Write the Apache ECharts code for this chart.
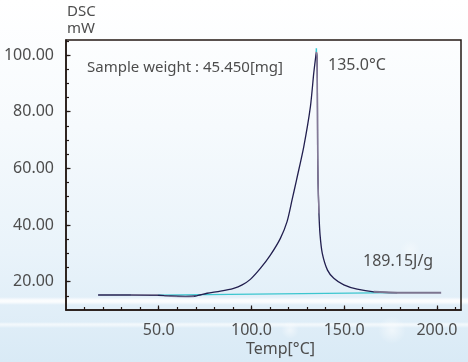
<!DOCTYPE html>
<html>
<head>
<meta charset="utf-8">
<script src="https://cdn.jsdelivr.net/npm/echarts@6/dist/echarts.min.js"></script>
<style>
html,body{margin:0;padding:0;width:468px;height:362px;overflow:hidden;}
body{background:linear-gradient(180deg,#ffffff 0%,#f6fafd 35%,#e9f3fa 70%,#d9eaf6 100%);position:relative;}
#bg{position:absolute;left:0;top:0;width:468px;height:362px;
background:
radial-gradient(circle at 392px 330px, rgba(255,255,255,0.55) 0, rgba(255,255,255,0) 14px),
radial-gradient(circle at 290px 330px, rgba(255,255,255,0.5) 0, rgba(255,255,255,0) 9px),
radial-gradient(circle at 410px 250px, rgba(255,255,255,0.35) 0, rgba(255,255,255,0) 10px),
linear-gradient(180deg, rgba(255,255,255,0) 297px, rgba(255,255,255,0.85) 300px, rgba(255,255,255,0.85) 302px, rgba(255,255,255,0) 305px),
linear-gradient(180deg, rgba(255,255,255,0) 322px, rgba(255,255,255,0.6) 324px, rgba(255,255,255,0.6) 325px, rgba(255,255,255,0) 328px);}
#chart{position:absolute;left:0;top:0;width:468px;height:362px;}
</style>
</head>
<body>
<div id="bg"></div>
<div id="chart"></div>
<script>
// ---- data ----
var mainTemp = [17.3, 34.7, 49.8, 56.3, 64.4, 69.8, 76.1, 83.3, 90.4, 95.0, 99.4, 104.8, 110.2, 115.6, 119.2, 121.9, 124.3, 128.2, 131.8, 133.6, 134.6, 135.0, 135.4, 135.6, 135.7, 135.9, 136.4, 137.0, 138.2, 141.0, 144.4, 149.8, 157.0, 166.0, 178.6];
var mainDSC  = [15.3, 15.3, 15.2, 14.94, 14.84, 14.94, 15.91, 16.63, 17.65, 18.87, 20.81, 24.68, 29.37, 35.28, 41.19, 48.84, 55.87, 67.6, 81.77, 93.59, 99.1, 101.2, 98.7, 81.4, 66.1, 55.9, 44.1, 36.5, 29.98, 24.07, 21.2, 18.87, 17.34, 16.42, 16.12];
var tailTemp = [166.0, 178.6, 191.2, 202.3];
var tailDSC  = [16.42, 16.12, 16.12, 16.12];
var descTemp = [135.0, 135.4, 135.6, 135.7, 135.9, 136.4];
var descDSC  = [101.2, 98.7, 81.4, 66.1, 55.9, 44.1];
var dipTemp  = [53.0, 60.0, 64.4, 69.0];
var dipDSC   = [14.89, 14.69, 14.64, 14.74];
var leftTemp = [35.0, 49.5];
var leftDSC  = [15.35, 15.35];
var baseTemp = [49.8, 178.6];
var baseDSC  = [15.25, 16.12];
var peakTemp = [135.0, 135.0];
var peakDSC  = [101.1, 102.4];
var xMajorTicks = [50, 100, 150, 200];
var yMajorTicks = [20, 40, 60, 80, 100];

function pairs(a, b) { return a.map(function (v, i) { return [v, b[i]]; }); }

var txt = '#4d4d4d';
var axisCol = '#231815';
var font = '"Noto Sans", "Open Sans", sans-serif';

var chart = echarts.init(document.getElementById('chart'), null, {renderer: 'canvas'});
chart.setOption({
  animation: false,
  backgroundColor: 'transparent',
  grid: {left: 66, top: 40, right: 7, bottom: 52, show: true, borderColor: axisCol, borderWidth: 1.5, backgroundColor: 'transparent'},
  xAxis: [{
    type: 'value', min: 0, max: 213, interval: 10,
    axisLine: {show: true, onZero: false, lineStyle: {color: axisCol, width: 1.5}},
    axisTick: {show: true, inside: true, length: 3, lineStyle: {color: axisCol, width: 1.2}},
    splitLine: {show: false},
    axisLabel: {
      margin: 12, color: txt, fontSize: 16, fontFamily: font,
      showMinLabel: false, showMaxLabel: false,
      formatter: function (v) { return xMajorTicks.indexOf(v) >= 0 ? v.toFixed(1) : ''; }
    }
  }, {
    type: 'value', min: 0, max: 213, position: 'bottom', offset: 0,
    axisLine: {show: false},
    axisTick: {show: true, inside: true, length: 4.5, customValues: xMajorTicks, lineStyle: {color: axisCol, width: 1.2}},
    axisLabel: {show: false}, splitLine: {show: false}
  }],
  yAxis: [{
    type: 'value', min: 10, max: 105.3, interval: 5,
    axisLine: {show: true, onZero: false, lineStyle: {color: axisCol, width: 1.5}},
    axisTick: {show: true, inside: true, length: 3, lineStyle: {color: axisCol, width: 1.2}},
    splitLine: {show: false},
    axisLabel: {
      margin: 12, color: txt, fontSize: 16, fontFamily: font,
      showMinLabel: false, showMaxLabel: false,
      formatter: function (v) { return yMajorTicks.indexOf(v) >= 0 ? v.toFixed(2) : ''; }
    }
  }, {
    type: 'value', min: 10, max: 105.3, position: 'left', offset: 0,
    axisLine: {show: false},
    axisTick: {show: true, inside: true, length: 4.5, customValues: yMajorTicks, lineStyle: {color: axisCol, width: 1.2}},
    axisLabel: {show: false}, splitLine: {show: false}
  }],
  series: [
    {type: 'line', data: pairs(baseTemp, baseDSC), showSymbol: false, lineStyle: {color: '#3cc6cf', width: 1.3}},
    {type: 'line', data: pairs(mainTemp, mainDSC), showSymbol: false, smooth: 0.25, lineStyle: {color: '#221f4f', width: 1.3}},
    {type: 'line', data: pairs(dipTemp, dipDSC), showSymbol: false, smooth: 0.3, lineStyle: {color: '#8a7f9c', width: 1.2, opacity: 0.7}},
    {type: 'line', data: pairs(leftTemp, leftDSC), showSymbol: false, lineStyle: {color: '#8a7f9c', width: 1.2, opacity: 0.6}},
    {type: 'line', data: pairs(descTemp, descDSC), showSymbol: false, smooth: 0.25, lineStyle: {color: '#857a98', width: 1.4}},
    {type: 'line', data: pairs(tailTemp, tailDSC), showSymbol: false, lineStyle: {color: '#7d7590', width: 2}},
    {type: 'line', data: pairs(peakTemp, peakDSC), showSymbol: false, lineStyle: {color: '#35c9d3', width: 1.5}}
  ],
  graphic: [
    {type: 'text', left: 67, top: 4, style: {text: 'DSC', fontSize: 15, fontFamily: font, fill: txt}},
    {type: 'text', left: 67, top: 21, style: {text: 'mW', fontSize: 15, fontFamily: font, fill: txt}},
    {type: 'text', left: 87, top: 60, style: {text: 'Sample weight : 45.450[mg]', fontSize: 15, fontFamily: font, fill: txt, verticalAlign: 'middle'}},
    {type: 'text', left: 328, top: 57, style: {text: '135.0°C', fontSize: 16, fontFamily: font, fill: txt}},
    {type: 'text', left: 363, top: 253, style: {text: '189.15J/g', fontSize: 16, fontFamily: font, fill: txt}},
    {type: 'text', left: 246, top: 341, style: {text: 'Temp[°C]', fontSize: 16, fontFamily: font, fill: txt}}
  ]
});
</script>
</body>
</html>
